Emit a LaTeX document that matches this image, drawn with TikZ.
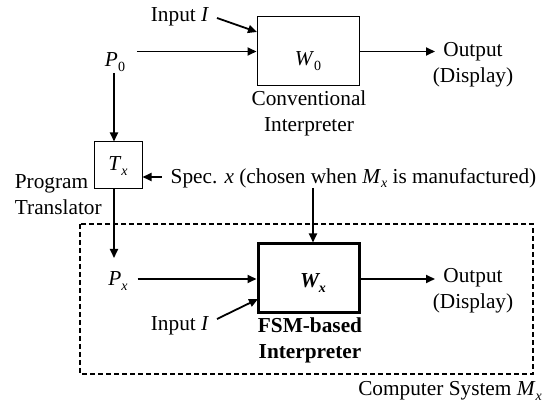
\documentclass[tikz,border=0pt]{standalone}
\usepackage{fontspec}
\setmainfont{Liberation Serif}
\usetikzlibrary{arrows.meta}
\newcommand{\sbs}[1]{\raisebox{-0.45ex}{\fontsize{14}{14}\selectfont #1}}
\begin{document}
\begin{tikzpicture}[x=1pt,y=-1pt,font=\fontsize{21.3}{26}\selectfont,line width=1.8pt,
  arr/.style={-{Triangle[length=9pt,width=8pt]}},
  thinbox/.style={draw,line width=1pt,inner sep=0pt},
  thickbox/.style={draw,line width=3pt,inner sep=0pt},
  txt/.style={inner sep=0pt,align=center},
  frame/.style={draw,line width=1.8pt,dash pattern=on 5pt off 3pt}]
\useasboundingbox (0,0) rectangle (552,403);
% top interpreter
\node[thinbox,minimum width=102pt,minimum height=69pt] (W0) at (308,51.5) {};
\node[txt] (W0lab) at (308,61) {\textit{W}\sbs{0}};
\node[txt] (P0) at (115,62) {\textit{P}\sbs{0}};
\node[txt] (in1) at (180,17) {Input \textit{I}};
\node[txt] (out1) at (473,65) {Output\\(Display)};
\node[txt] (conv) at (309,113.5) {Conventional\\Interpreter};
\coordinate (in1s) at (217,18);
\coordinate (in1e) at (257,32);
\coordinate (out1e) at (435,51.5);
\draw[arr] (in1s) -- (in1e);
\draw[arr] ([xshift=11pt]P0.east |- W0.west) -- (W0.west);
\draw[arr] (W0.east) -- (out1e);
% translator
\node[thinbox,minimum width=48pt,minimum height=47pt] (Tx) at (118,165.5) {};
\node[txt] (Txlab) at (118,166) {\textit{T}\sbs{\textit{x}}};
\node[txt,align=left,anchor=west] (prog) at (14,195) {Program\\Translator};
\node[txt] (spec) at (353.5,178) {Spec. \textit{x} (chosen when \textit{M}\sbs{\textit{x}} is manufactured)};
\draw[arr] (114,73) -- (Tx.north -| 114,0);
\draw[arr] ([xshift=-8pt]spec.west |- 0,177) -- (Tx.east |- 0,177);
% system
\draw[frame] (80,224) rectangle (533,374);
\node[thickbox,minimum width=101pt,minimum height=69pt] (Wx) at (308.5,278.5) {};
\node[txt] (Wxlab) at (313,283) {\bfseries\itshape W\sbs{\bfseries\itshape x}};
\node[txt] (Px) at (118,281) {\textit{P}\sbs{\textit{x}}};
\coordinate (pxtop) at (114,258);
\draw[arr] (Tx.south -| 114,0) -- (pxtop);
\draw[arr] ([xshift=9pt]Px.east |- 0,279) -- (Wx.west |- 0,279);
\draw[arr] (313,188) -- (Wx.north -| 313,0);
\node[txt] (in2) at (180,326) {Input \textit{I}};
\coordinate (in2s) at (217,319);
\coordinate (in2e) at (258,299);
\draw[arr] (in2s) -- (in2e);
\coordinate (out2e) at (435,279);
\draw[arr] (Wx.east |- 0,279) -- (out2e);
\node[txt] (out2) at (473,291) {Output\\(Display)};
\node[txt,font=\fontsize{21.3}{26}\selectfont\bfseries] (fsm) at (310,340.5) {FSM-based\\Interpreter};
\node[txt] (cs) at (450,391) {Computer System \textit{M}\sbs{\textit{x}}};
\end{tikzpicture}
\end{document}
